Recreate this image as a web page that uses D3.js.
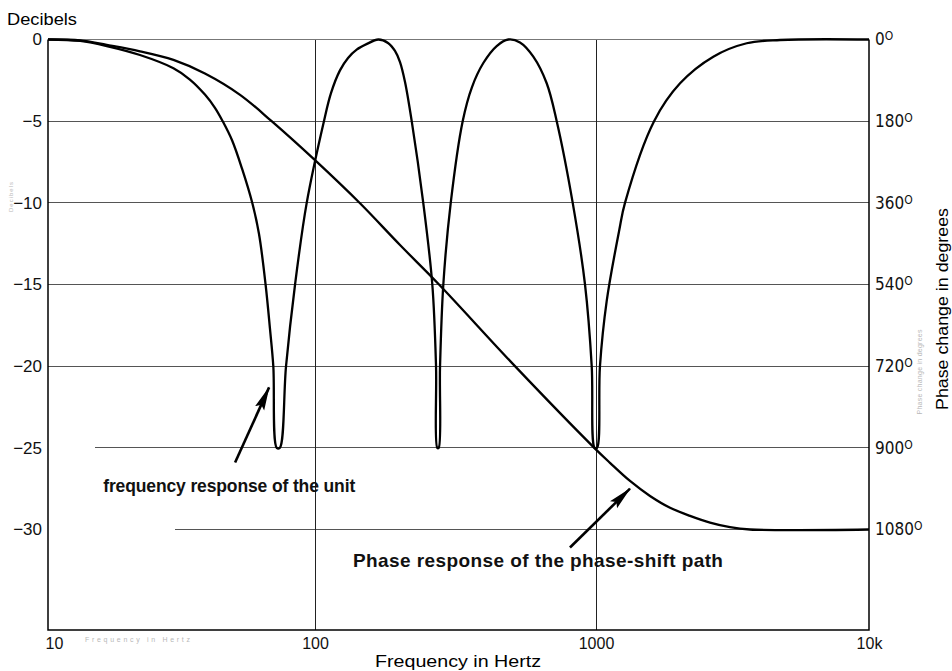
<!DOCTYPE html>
<html lang="en">
<head>
  <meta charset="UTF-8">
  <title>Frequency and phase response</title>
  <script src="https://d3js.org/d3.v7.min.js"></script>
  <style>
    body {
      margin: 0;
      background: #fff;
    }
    svg {
      display: block;
      font-family: "Liberation Sans", Arial, sans-serif;
    }
    .grid line {
      stroke-width: 1;
      shape-rendering: crispEdges;
    }
    .frame {
      stroke: #000;
      stroke-width: 1.5;
      fill: none;
    }
    .curve {
      fill: none;
      stroke: #000;
      stroke-width: 2.3;
      stroke-linejoin: round;
    }
    .note {
      font-weight: bold;
      fill: #111;
    }
    .ghost {
      fill: #b8b8b8;
      font-size: 7px;
    }
  </style>
</head>
<body>
  <div id="chart"></div>

  <script>
    const freqTicks = [10, 100, 1000, 10000];
    const freqLabels = ["10", "100", "1000", "10k"];
    const dbTicks = [0, -5, -10, -15, -20, -25, -30];
    const gridFromHz = [10, 10, 10, 10, 10, 15, 30];   // some grid lines start late in the print
    const phaseTicks = [0, 180, 360, 540, 720, 900, 1080];

    // frequency response of the unit (Hz, dB)
    const respHz = [10, 13.2, 16.6, 22.1, 29.5, 34.0, 38.7, 42.2, 45.1, 48.9, 53.3, 58.2, 61.7, 65.3,
      67.8, 69.8, 71.9, 73.8,
      77.9, 84.2, 93.1, 107.6, 114.0, 122.7, 131.1, 140.7, 153.1, 168,
      181.9, 192.6, 200.7, 209.1, 220.9, 242.8, 261.5, 269.6, 272.4, 275.5,
      278.6, 286.2, 304.1, 335.4, 362, 397.2, 443.2, 487.5,
      536.4, 598.3, 667.6, 724.8, 826.3, 913.9, 965.5, 988.6, 1008.5,
      1034, 1094, 1217, 1277, 1632, 2032, 2690, 3565, 4721, 10000];
    const respDb = [0, -0.09, -0.4, -0.95, -1.76, -2.45, -3.37, -4.18, -5, -6.17, -7.91, -10, -11.91, -15,
      -17.69, -20, -25, -25,
      -20, -15, -10, -5, -3.28, -1.89, -1.13, -0.62, -0.27, 0,
      -0.21, -0.7, -1.38, -2.6, -5, -10, -15, -20, -25, -25,
      -20, -15, -10, -5, -2.91, -1.44, -0.4, 0,
      -0.18, -1.05, -2.68, -5, -10, -15, -20, -25, -25,
      -20, -16.03, -11.66, -10, -5, -2.68, -1.05, -0.23, -0.03, 0];

    // phase response of the phase-shift path (Hz, degrees)
    const phaseHz = [10, 13.2, 16.6, 22.1, 29.5, 38.7, 52.4, 68.8, 100, 144.6, 200.7, 276.3, 514.8,
      986, 1125, 1332, 1577, 1867, 2210, 2616, 3096, 3665, 10000];
    const phaseDeg = [0, 2, 12, 26, 45, 75, 122, 180, 266, 361, 453, 540, 720,
      900, 933, 973, 1006, 1032, 1050, 1065, 1075, 1080, 1080];

    // annotations: [text, Hz, dB, font size, length] and arrows [fromHz, fromDb, toHz, toDb]
    const notes = [
      ["frequency response of the unit", 16.1, -27.7, 17.5, 252],
      ["Phase response of the phase-shift path", 136.5, -32.3, 19, 370]
    ];
    const arrows = [
      [50.2, -25.9, 67.3, -21.3],
      [808, -31.1, 1332, -27.5]
    ];

    const width = 952, height = 671;
    const plotLeft = 48, plotRight = 869, plotTop = 39.5, plotBottom = 630;

    const svg = d3.select("#chart")
      .append("svg")
      .attr("width", width)
      .attr("height", height);

    // the printed decades are not quite even, so the log scale is piecewise
    const x = d3.scaleLog()
      .domain(freqTicks)
      .range([plotLeft, 315, 596, plotRight]);

    const y = d3.scaleLinear()
      .domain([0, -30])
      .range([plotTop, 529.5]);

    const yPhase = d3.scaleLinear()
      .domain([0, 1080])
      .range([plotTop, 529.5]);

    // grid
    const grid = svg.append("g").attr("class", "grid");
    dbTicks.forEach((d, i) => {
      grid.append("line")
        .attr("x1", x(gridFromHz[i])).attr("x2", plotRight)
        .attr("y1", y(d)).attr("y2", y(d))
        .attr("stroke", d === 0 ? "#777" : "#555");
    });
    freqTicks.slice(1, 3).forEach(f => {
      grid.append("line")
        .attr("x1", x(f)).attr("x2", x(f))
        .attr("y1", plotTop).attr("y2", plotBottom)
        .attr("stroke", "#222");
    });

    // frame (left, right, bottom)
    svg.append("path")
      .attr("class", "frame")
      .attr("d", `M${plotLeft},${plotTop}V${plotBottom}H${plotRight}V${plotTop}`);

    // axes
    const leftAxis = svg.append("g")
      .attr("transform", `translate(${plotLeft},0)`)
      .call(d3.axisLeft(y).tickValues(dbTicks).tickSize(0).tickPadding(6)
        .tickFormat(d => d === 0 ? "0" : "\u2212" + (-d)));
    leftAxis.select(".domain").remove();
    leftAxis.selectAll("text")
      .style("font-family", "'Liberation Sans', Arial, sans-serif")
      .style("font-size", "17px")
      .attr("fill", "#111");

    const rightAxis = svg.append("g")
      .attr("transform", `translate(${plotRight},0)`)
      .call(d3.axisRight(yPhase).tickValues(phaseTicks).tickSize(0).tickPadding(6));
    rightAxis.select(".domain").remove();
    rightAxis.selectAll("text")
      .style("font-family", "'Liberation Sans Narrow', 'DejaVu Sans Condensed', Arial, sans-serif")
      .style("font-size", "17px")
      .attr("fill", "#111")
      .text(d => d)
      .append("tspan")
      .attr("dy", "-0.42em")
      .style("font-size", "12px")
      .text("O");

    const bottomAxis = svg.append("g")
      .attr("transform", `translate(0,${plotBottom})`)
      .call(d3.axisBottom(x).tickValues(freqTicks).tickSize(0).tickPadding(8)
        .tickFormat((d, i) => freqLabels[i]));
    bottomAxis.select(".domain").remove();
    bottomAxis.selectAll("text")
      .style("font-family", "'Liberation Sans', Arial, sans-serif")
      .style("font-size", "16px")
      .attr("fill", "#111")
      .attr("dx", (d, i) => i === 0 ? 6 : 0);

    // axis titles
    svg.append("text")
      .attr("x", 7).attr("y", 25)
      .style("font-size", "16.5px")
      .attr("textLength", 70)
      .attr("lengthAdjust", "spacingAndGlyphs")
      .text("Decibels");

    svg.append("text")
      .attr("x", 375).attr("y", 667)
      .style("font-size", "16px")
      .attr("textLength", 166)
      .attr("lengthAdjust", "spacingAndGlyphs")
      .text("Frequency in Hertz");

    svg.append("text")
      .attr("transform", "translate(948,309) rotate(-90)")
      .attr("text-anchor", "middle")
      .style("font-size", "16.5px")
      .attr("textLength", 202)
      .attr("lengthAdjust", "spacingAndGlyphs")
      .text("Phase change in degrees");

    // faint ghost labels left in the scan
    svg.append("text").attr("class", "ghost")
      .attr("x", 85).attr("y", 642).attr("textLength", 105)
      .text("Frequency in Hertz");
    svg.append("text").attr("class", "ghost")
      .attr("transform", "translate(922,372) rotate(-90)")
      .attr("text-anchor", "middle").attr("textLength", 85)
      .text("Phase change in degrees");
    svg.append("text").attr("class", "ghost")
      .attr("transform", "translate(13,197) rotate(-90)")
      .attr("text-anchor", "middle").attr("textLength", 30)
      .style("font-size", "6px")
      .text("Decibels");

    // curves
    const respLine = d3.line()
      .x(d => x(d[0]))
      .y(d => y(d[1]))
      .curve(d3.curveCatmullRom.alpha(0.5));

    const phaseLine = d3.line()
      .x(d => x(d[0]))
      .y(d => yPhase(d[1]))
      .curve(d3.curveCatmullRom.alpha(0.5));

    svg.append("path")
      .datum(d3.zip(respHz, respDb))
      .attr("class", "curve")
      .attr("d", respLine);

    svg.append("path")
      .datum(d3.zip(phaseHz, phaseDeg))
      .attr("class", "curve")
      .attr("d", phaseLine);

    // arrows and notes
    svg.append("defs")
      .append("marker")
      .attr("id", "head")
      .attr("viewBox", "0 0 24 12")
      .attr("markerUnits", "userSpaceOnUse")
      .attr("markerWidth", 24)
      .attr("markerHeight", 12)
      .attr("refX", 23)
      .attr("refY", 6)
      .attr("orient", "auto")
      .append("path")
      .attr("d", "M0,1 L24,6 L0,11 L4,6 Z")
      .attr("fill", "#000");

    svg.selectAll(".arrow")
      .data(arrows)
      .enter()
      .append("line")
      .attr("class", "arrow")
      .attr("x1", d => x(d[0]))
      .attr("y1", d => y(d[1]))
      .attr("x2", d => x(d[2]))
      .attr("y2", d => y(d[3]))
      .attr("stroke", "#000")
      .attr("stroke-width", 2.6)
      .attr("marker-end", "url(#head)");

    svg.selectAll(".note")
      .data(notes)
      .enter()
      .append("text")
      .attr("class", "note")
      .attr("x", d => x(d[1]))
      .attr("y", d => y(d[2]))
      .style("font-size", d => d[3] + "px")
      .attr("textLength", d => d[4])
      .text(d => d[0]);
  </script>
</body>
</html>
